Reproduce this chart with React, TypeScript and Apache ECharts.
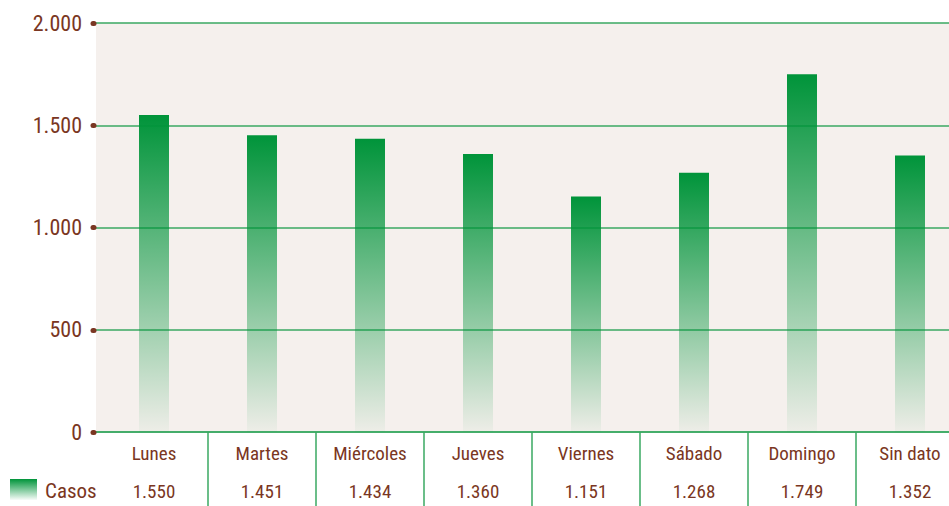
import React, { useEffect, useRef } from "react";
import * as echarts from "echarts";

const categories = ["Lunes", "Martes", "Miércoles", "Jueves", "Viernes", "Sábado", "Domingo", "Sin dato"];
const casos = [1550, 1451, 1434, 1360, 1151, 1268, 1749, 1352];
const seriesName = "Casos";
const yTicks = [0, 500, 1000, 1500, 2000];

const BROWN = "#7a3622";
const GREEN = "#3aa862";
const FONT = "Roboto Condensed";

const fmt = (v: number) => String(v).replace(/\B(?=(\d{3})+(?!\d))/g, ".");

export default function App() {
  const ref = useRef<HTMLDivElement>(null);
  useEffect(() => {
    if (!ref.current) return;
    const chart = echarts.init(ref.current, null, { renderer: "svg" });
    const grad = () =>
      new echarts.graphic.LinearGradient(0, 0, 0, 1, [
        { offset: 0, color: "rgba(0,148,58,1)" },
        { offset: 1, color: "rgba(0,148,58,0.03)" },
      ]);
    chart.setOption({
      animation: false,
      textStyle: { fontFamily: FONT },
      grid: [
        {
          left: 96,
          right: 0,
          top: 23,
          bottom: 74,
          show: true,
          backgroundColor: "#f5f0ed",
          borderWidth: 0,
          outerBoundsMode: "none",
        },
        { left: 100, width: 864, top: 23, bottom: 74, outerBoundsMode: "none" },
      ],
      xAxis: [
        {
          type: "category",
          gridIndex: 0,
          data: categories,
          axisLine: { show: true, lineStyle: { color: GREEN, width: 1.5 } },
          axisTick: { show: false },
          axisLabel: { show: false },
        },
        {
          type: "category",
          gridIndex: 1,
          data: categories,
          axisLine: { show: false },
          axisTick: {
            show: true,
            length: 76,
            interval: (i: number) => i > 0,
            lineStyle: { color: GREEN, width: 1.5 },
          },
          axisLabel: {
            margin: 2,
            interval: 0,
            formatter: (v: string) => {
              const i = categories.indexOf(v);
              return `{a|${v}}\n{b|${fmt(casos[i])}}`;
            },
            rich: {
              a: { fontFamily: FONT, fontSize: 19, color: BROWN, lineHeight: 38 },
              b: { fontFamily: FONT, fontSize: 19, color: BROWN, lineHeight: 38 },
            },
          },
        },
      ],
      yAxis: [
        {
          type: "value",
          gridIndex: 0,
          min: 0,
          max: 2000,
          interval: 500,
          offset: 2,
          axisLine: { show: false },
          axisTick: {
            show: true,
            length: 1,
            lineStyle: { color: BROWN, width: 5, cap: "round" },
          },
          axisLabel: {
            margin: 12,
            fontFamily: FONT,
            fontSize: 22,
            color: BROWN,
            formatter: (v: number) => (yTicks.includes(v) ? fmt(v) : ""),
          },
          splitLine: { show: true, lineStyle: { color: GREEN, width: 1.5 } },
        },
        {
          type: "value",
          gridIndex: 1,
          min: 0,
          max: 2000,
          interval: 500,
          show: false,
        },
      ],
      series: [
        {
          name: seriesName,
          type: "bar",
          xAxisIndex: 1,
          yAxisIndex: 1,
          data: casos,
          barWidth: 30,
          itemStyle: { color: grad() },
        },
      ],
      graphic: [
        {
          type: "rect",
          left: 10,
          top: 479,
          shape: { width: 27, height: 21 },
          style: { fill: grad() },
        },
        {
          type: "text",
          left: 45,
          top: 480,
          style: { text: seriesName, font: `21px ${FONT}`, fill: BROWN },
        },
      ],
    });
    return () => chart.dispose();
  }, []);
  return <div ref={ref} style={{ width: 949, height: 506, position: "absolute", left: 0, top: 0 }} />;
}
